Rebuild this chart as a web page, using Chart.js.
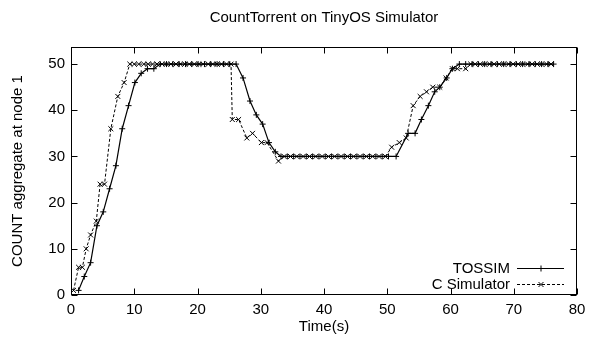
<!DOCTYPE html>
<html><head><meta charset="utf-8">
<script src="https://cdn.jsdelivr.net/npm/chart.js@4/dist/chart.umd.min.js"></script>
<style>html,body{margin:0;padding:0;background:#fff;}canvas{display:block;}</style>
</head><body>
<canvas id="c" width="593" height="341"></canvas>
<script>
const chartTitle = 'CountTorrent on TinyOS Simulator';
const xAxisTitle = 'Time(s)';
const yAxisTitle = 'COUNT aggregate at node 1';
const seriesNames = ['TOSSIM', 'C Simulator'];
const xTickValues = [0, 10, 20, 30, 40, 50, 60, 70, 80];
const yTickValues = [0, 10, 20, 30, 40, 50];

const tossimTime = [1.2, 2.1, 3.1, 4.1, 5.1, 6.1, 7.1, 8.1, 9.1, 10.1, 11.1, 12.1, 13.1,
  14.1, 15.1, 16.1, 17.1, 18.1, 19.1, 20.1, 21.1, 22.1, 23.1, 24.1, 25.1, 26.1,
  27.2, 28.3, 29.3, 30.3, 31.3, 32.3,
  33.2, 34.2, 35.2, 36.2, 37.2, 38.2, 39.2, 40.2, 41.2, 42.2, 43.2, 44.2, 45.2, 46.2, 47.2, 48.2, 49.2, 50.2, 51.4,
  53.3, 54.4, 55.4, 56.5, 57.5, 58.3, 59.4, 60.3, 61.4,
  62.4, 63.4, 64.4, 65.4, 66.4, 67.4, 68.4, 69.4, 70.4, 71.4, 72.4, 73.4, 74.4, 75.4, 76.3];
const tossimCount = [1, 4, 7, 15, 18, 23, 28, 36, 41, 46, 48, 49, 49,
  50, 50, 50, 50, 50, 50, 50, 50, 50, 50, 50, 50, 50,
  47, 42, 39, 37, 33, 31,
  30, 30, 30, 30, 30, 30, 30, 30, 30, 30, 30, 30, 30, 30, 30, 30, 30, 30, 30,
  35, 35, 38, 41, 44, 45, 47, 49, 50,
  50, 50, 50, 50, 50, 50, 50, 50, 50, 50, 50, 50, 50, 50, 50];

const csimTime = [0.4, 1.2, 1.8, 2.4, 3.1, 4.0, 4.6, 5.3, 6.3, 7.4, 8.4, 9.3,
  10.0, 10.7, 11.5, 12.2, 12.9, 13.6, 14.4, 15.1, 15.8, 16.6, 17.3, 18.0, 18.7, 19.5, 20.2, 20.9, 21.7, 22.4, 23.1, 23.8, 24.6, 25.3,
  25.5, 26.5, 27.8, 28.7, 30.1, 31.0, 32.8,
  33.7, 34.7, 35.7, 36.7, 37.7, 38.7, 39.7, 40.7, 41.7, 42.7, 43.7, 44.7, 45.7, 46.7, 47.7, 48.7, 49.7,
  50.7, 51.9, 53.0, 54.1, 55.2, 56.2, 57.2, 58.3, 59.3, 60.3, 61.1, 62.4, 63.2,
  63.9, 64.7, 65.4, 66.2, 66.9, 67.7, 68.4, 69.2, 69.9, 70.7, 71.4, 72.2, 72.9, 73.7, 74.4, 75.2, 75.9];
const csimCount = [1, 6, 6, 10, 13, 16, 24, 24, 36, 43, 46, 50,
  50, 50, 50, 50, 50, 50, 50, 50, 50, 50, 50, 50, 50, 50, 50, 50, 50, 50, 50, 50, 50, 50,
  38, 38, 34, 35, 33, 33, 29,
  30, 30, 30, 30, 30, 30, 30, 30, 30, 30, 30, 30, 30, 30, 30, 30, 30,
  32, 33, 34, 41, 43, 44, 45, 45, 47, 49, 49, 49, 50,
  50, 50, 50, 50, 50, 50, 50, 50, 50, 50, 50, 50, 50, 50, 50, 50, 50];

const FONT = '"Liberation Sans", Arial, Helvetica, sans-serif';
const FS = 15;

function pts(xs, ys) { return xs.map((x, i) => ({x: x, y: ys[i]})); }

const frame = {
  id: 'frame',
  afterDatasetsDraw(chart) {
    const ctx = chart.ctx, a = chart.chartArea;
    const xs = chart.scales.x, ys = chart.scales.y;
    const L = Math.round(a.left) + 0.5, R = Math.round(a.right) - 0.5;
    const T = Math.round(a.top) + 0.5, B = Math.round(a.bottom) - 0.5;
    ctx.save();
    ctx.strokeStyle = '#000'; ctx.lineWidth = 1; ctx.setLineDash([]);
    ctx.strokeRect(L, T, R - L, B - T);
    const tl = 6;
    ctx.beginPath();
    xTickValues.forEach(v => {
      const px = Math.round(xs.getPixelForValue(v)) + 0.5;
      ctx.moveTo(px, B); ctx.lineTo(px, B - tl);
      ctx.moveTo(px, T); ctx.lineTo(px, T + tl);
    });
    yTickValues.forEach(v => {
      const py = Math.round(ys.getPixelForValue(v)) + 0.5;
      ctx.moveTo(L, py); ctx.lineTo(L + tl, py);
      ctx.moveTo(R, py); ctx.lineTo(R - tl, py);
    });
    ctx.stroke();
    // legend (gnuplot style, bottom right inside plot)
    ctx.font = FS + 'px ' + FONT;
    ctx.fillStyle = '#000';
    ctx.textAlign = 'right'; ctx.textBaseline = 'middle';
    const rows = [{y: 268, ds: chart.data.datasets[0]}, {y: 284, ds: chart.data.datasets[1]}];
    rows.forEach(r => {
      ctx.fillText(r.ds.label, 510, r.y + 1);
      ctx.beginPath();
      ctx.setLineDash(r.ds.borderDash || []);
      ctx.lineWidth = 1;
      ctx.moveTo(517, r.y + 0.5); ctx.lineTo(564, r.y + 0.5);
      ctx.stroke();
      ctx.setLineDash([]);
      Chart.helpers.drawPoint(ctx, {pointStyle: r.ds.pointStyle, radius: r.ds.pointRadius, rotation: 0, borderWidth: 1}, 541, r.y + 0.5);
    });
    ctx.restore();
  }
};

new Chart(document.getElementById('c'), {
  type: 'line',
  data: {
    datasets: [
      {label: seriesNames[0], data: pts(tossimTime, tossimCount), borderColor: '#000', backgroundColor: '#000',
       borderWidth: 1.2, pointStyle: 'cross', pointRadius: 3, pointBorderWidth: 1, pointBorderColor: '#000', tension: 0, fill: false},
      {label: seriesNames[1], data: pts(csimTime, csimCount), borderColor: '#000', backgroundColor: '#000',
       borderWidth: 1, borderDash: [3, 2], pointStyle: 'crossRot', pointRadius: 3.5, pointBorderWidth: 1, pointBorderColor: '#000', tension: 0, fill: false}
    ]
  },
  options: {
    responsive: false, animation: false, parsing: true,
    layout: {padding: {left: 0, right: 16, top: 0, bottom: 0}},
    plugins: {
      legend: {display: false},
      tooltip: {enabled: false},
      title: {display: true, text: chartTitle, color: '#000', fullSize: false,
        font: {family: FONT, size: FS, weight: 'normal', lineHeight: 1.2},
        padding: {top: 9, bottom: 20}}
    },
    scales: {
      x: {type: 'linear', min: 0, max: 80,
        afterBuildTicks: s => { s.ticks = xTickValues.map(v => ({value: v})); },
        afterFit: s => { s.height = 46; },
        grid: {display: false, drawTicks: false}, border: {display: false},
        ticks: {color: '#000', padding: 6, maxRotation: 0, font: {family: FONT, size: FS}},
        title: {display: true, text: xAxisTitle, color: '#000', font: {family: FONT, size: FS}, padding: {top: 0, bottom: 5}}
      },
      y: {type: 'linear', min: 0, max: 53.7,
        afterBuildTicks: s => { s.ticks = yTickValues.map(v => ({value: v})); },
        afterFit: s => { s.width = 71; },
        grid: {display: false, drawTicks: false}, border: {display: false},
        ticks: {color: '#000', padding: 6, font: {family: FONT, size: FS}},
        title: {display: true, text: yAxisTitle, color: '#000', font: {family: FONT, size: FS}, padding: {top: 9, bottom: 0}}
      }
    }
  },
  plugins: [frame]
});
</script>
</body></html>
